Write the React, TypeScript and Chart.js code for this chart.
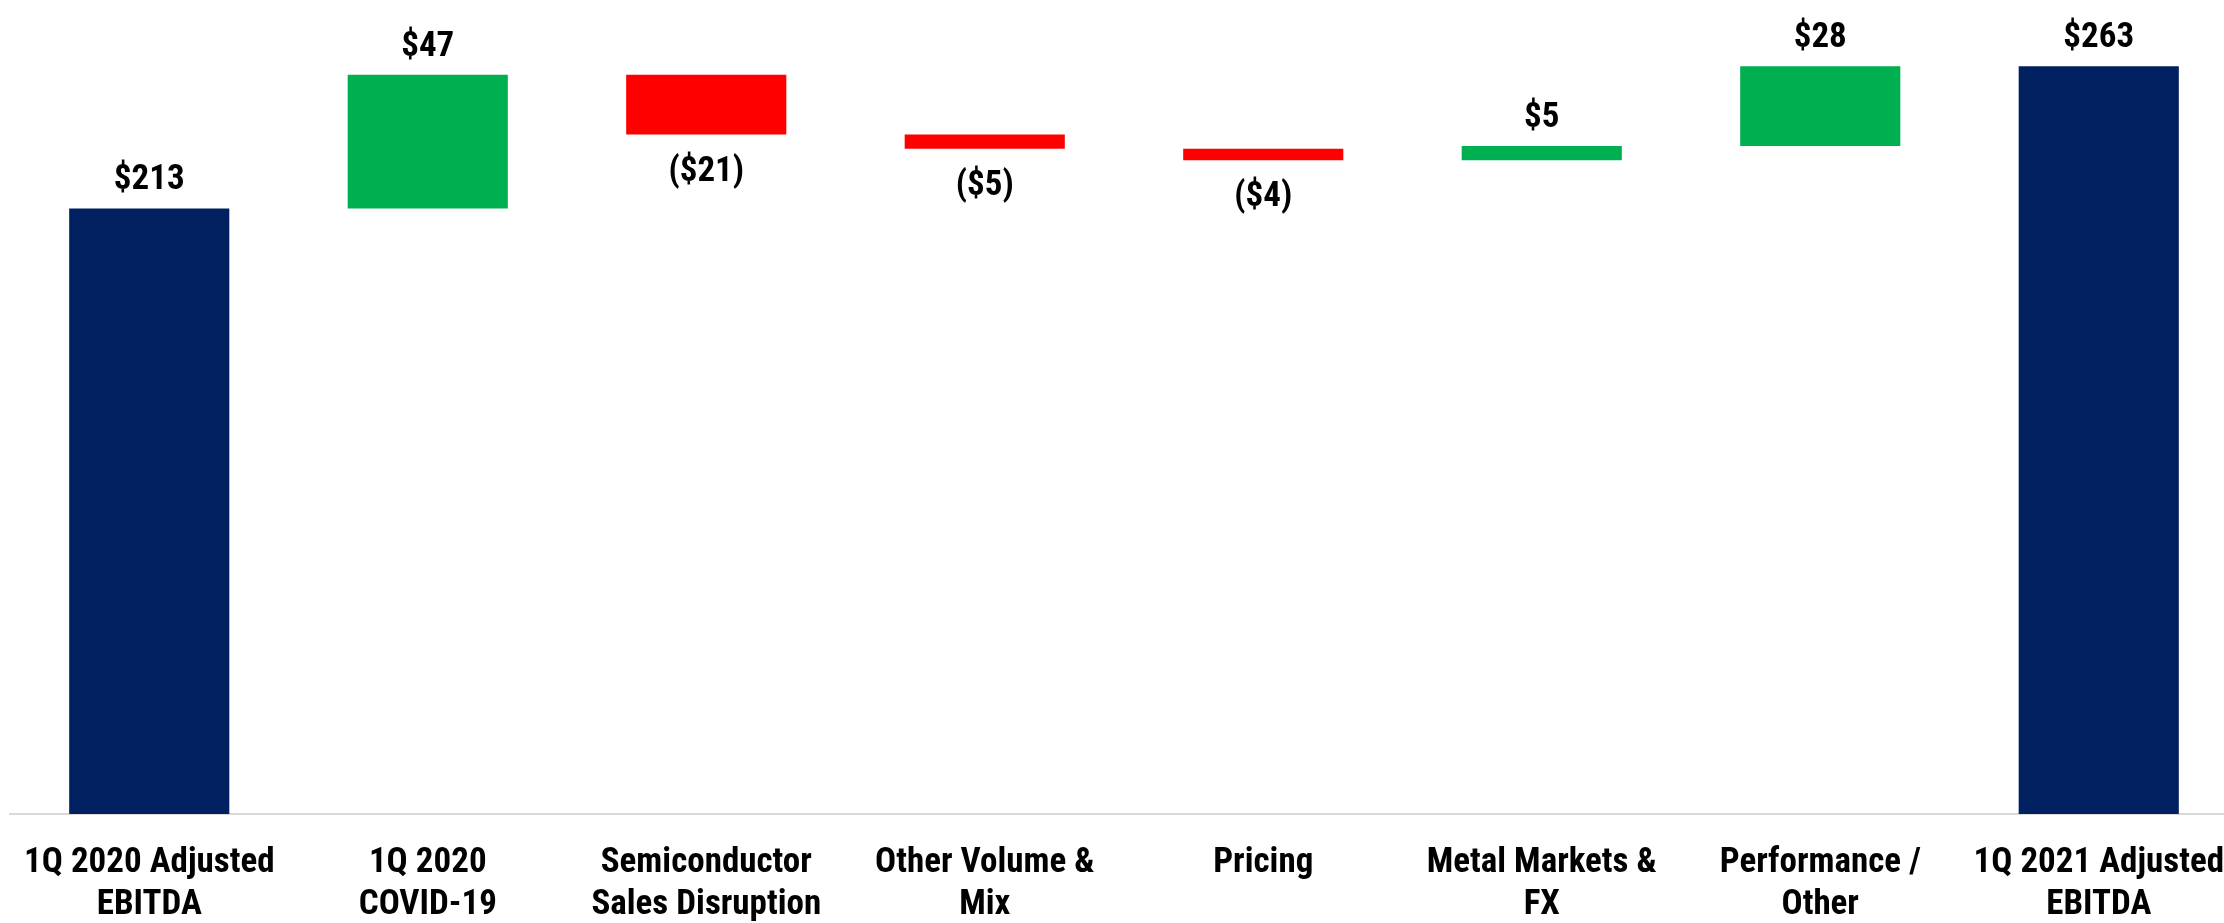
import React, { useEffect, useRef } from "react";
import { Chart, registerables } from "chart.js";

Chart.register(...registerables);

// ---- data ----
const categories: string[][] = [
  ["1Q 2020 Adjusted", "EBITDA"],
  ["1Q 2020", "COVID-19"],
  ["Semiconductor", "Sales Disruption"],
  ["Other Volume &", "Mix"],
  ["Pricing"],
  ["Metal Markets &", "FX"],
  ["Performance /", "Other"],
  ["1Q 2021 Adjusted", "EBITDA"],
];
const values: number[] = [213, 47, -21, -5, -4, 5, 28, 263];
const kinds: string[] = ["total", "delta", "delta", "delta", "delta", "delta", "delta", "total"];

const NAVY = "#002060";
const GREEN = "#00B050";
const RED = "#FF0000";
const FONT = "'Roboto Condensed', Roboto, 'Liberation Sans', Arial, sans-serif";

function buildRanges(): [number, number][] {
  let running = 0;
  return values.map((v, i) => {
    if (kinds[i] === "total") {
      running = v;
      return [0, v] as [number, number];
    }
    const start = running;
    running += v;
    return [start, running] as [number, number];
  });
}

function fmt(v: number): string {
  return v < 0 ? `($${Math.abs(v)})` : `$${v}`;
}

const labelPlugin = {
  id: "wfLabels",
  afterDatasetsDraw(chart: any) {
    const ctx = chart.ctx;
    const meta = chart.getDatasetMeta(0);
    ctx.save();
    ctx.font = `bold 35px ${FONT}`;
    ctx.fillStyle = "#000";
    ctx.textAlign = "center";
    ctx.textBaseline = "alphabetic";
    meta.data.forEach((bar: any, i: number) => {
      const v = values[i];
      const top = Math.min(bar.y, bar.base);
      const bottom = Math.max(bar.y, bar.base);
      if (v < 0) {
        ctx.fillText(fmt(v), bar.x, bottom + 46);
      } else {
        ctx.fillText(fmt(v), bar.x, top - 19);
      }
    });
    ctx.restore();
  },
};

export default function App() {
  const ref = useRef<HTMLCanvasElement | null>(null);

  useEffect(() => {
    if (!ref.current) return;
    const ranges = buildRanges();
    const colors = values.map((v, i) => (kinds[i] === "total" ? NAVY : v < 0 ? RED : GREEN));
    const chart = new Chart(ref.current, {
      type: "bar",
      data: {
        labels: categories,
        datasets: [
          {
            data: ranges as any,
            backgroundColor: colors,
            borderWidth: 0,
            categoryPercentage: 1,
            barPercentage: 0.575,
          },
        ],
      },
      options: {
        animation: false,
        responsive: false,
        maintainAspectRatio: false,
        layout: { padding: { left: 10, right: 12, top: 18, bottom: 0 } },
        plugins: {
          legend: { display: false },
          tooltip: { enabled: false },
        },
        scales: {
          x: {
            grid: { display: false, drawTicks: false },
            border: { display: true, color: "#D9D9D9", width: 2 },
            ticks: {
              color: "#000",
              font: { family: FONT, size: 35, weight: "bold", lineHeight: 42 / 35 },
              padding: 28,
              maxRotation: 0,
              minRotation: 0,
              autoSkip: false,
            },
            afterFit: (s: any) => {
              s.height = 109;
              s.paddingLeft = 0;
              s.paddingRight = 0;
            },
          },
          y: {
            display: false,
            min: 0,
            max: 280,
          },
        },
      },
      plugins: [labelPlugin],
    });
    return () => chart.destroy();
  }, []);

  return (
    <div
      style={{
        position: "absolute",
        left: 0,
        top: 0,
        width: 2224,
        height: 923,
        overflow: "hidden",
        background: "#fff",
      }}
    >
      <canvas ref={ref} width={2250} height={923} style={{ width: 2250, height: 923, display: "block" }} />
    </div>
  );
}
